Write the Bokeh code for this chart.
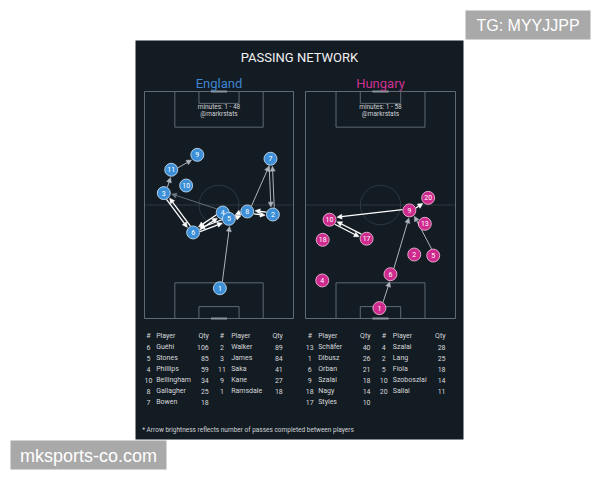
import numpy as np
from bokeh.plotting import figure
from bokeh.models import Range1d, Arrow, NormalHead, ColumnDataSource
from bokeh.core.properties import value
from bokeh.embed import file_html
from bokeh.resources import INLINE

# ---------------- data ----------------
title = "PASSING NETWORK"
teams = ["England", "Hungary"]
minutes = ["minutes: 1 - 48", "minutes: 1 - 58"]
credit = "@markrstats"
footnote = "* Arrow brightness reflects number of passes completed between players"

# average positions, pitch metres (x across 0-68, y up 0-105)
eng_num = ["1", "2", "3", "4", "5", "6", "7", "8", "9", "10", "11"]
eng_x = [34.4, 58.6, 8.8, 35.7, 38.5, 22.2, 57.5, 46.9, 24.1, 19.0, 12.2]
eng_y = [14.0, 48.1, 58.0, 49.0, 46.1, 39.8, 73.9, 49.5, 75.7, 61.5, 68.8]

hun_num = ["1", "2", "4", "5", "6", "9", "10", "13", "17", "18", "20"]
hun_x = [33.5, 49.3, 7.6, 57.9, 38.5, 47.1, 10.9, 54.1, 27.7, 7.8, 55.6]
hun_y = [4.8, 29.6, 17.6, 29.1, 20.5, 50.0, 45.7, 43.8, 36.9, 36.4, 55.8]

# pass links: from, to, brightness level (3 bright .. 1 faint)
eng_from = ["6", "3", "6", "4", "6", "5", "5", "8", "8", "2", "2", "7", "8", "1", "4", "3", "11"]
eng_to   = ["3", "6", "4", "6", "5", "6", "8", "5", "2", "8", "7", "2", "7", "5", "3", "11", "9"]
eng_lvl  = [3, 3, 3, 3, 3, 3, 3, 3, 3, 3, 2, 2, 2, 2, 1, 2, 2]

hun_from = ["9", "10", "17", "6", "1", "5", "9"]
hun_to   = ["10", "17", "10", "9", "6", "9", "20"]
hun_lvl  = [3, 3, 3, 2, 2, 2, 3]

# tables
eng_t1_num = ["6", "5", "4", "10", "8", "7"]
eng_t1_name = ["Guéhi", "Stones", "Phillips", "Bellingham", "Gallagher", "Bowen"]
eng_t1_qty = [106, 85, 59, 34, 25, 18]
eng_t2_num = ["2", "3", "11", "9", "1"]
eng_t2_name = ["Walker", "James", "Saka", "Kane", "Ramsdale"]
eng_t2_qty = [89, 84, 41, 27, 18]

hun_t1_num = ["13", "1", "6", "9", "18", "17"]
hun_t1_name = ["Schäfer", "Dibusz", "Orban", "Szalai", "Nagy", "Styles"]
hun_t1_qty = [40, 26, 21, 18, 14, 10]
hun_t2_num = ["4", "2", "5", "10", "20"]
hun_t2_name = ["Szalai", "Lang", "Fiola", "Szoboszlai", "Sallai"]
hun_t2_qty = [28, 25, 18, 14, 11]

wm1 = "TG: MYYJJPP"
wm2 = "mksports-co.com"

# ---------------- styles / layout ----------------
W, H = 592, 472
OFF = 0
FONT = value("Roboto")
PANEL = "#131b23"
LINE = "#5f6a74"
LINE_DIM = "#2e3943"
ENG_C, ENG_L, ENG_T = "#3d8fd8", "#d6eafa", "#3f86d0"
HUN_C, HUN_L, HUN_T = "#cf2a8e", "#f6c8e2", "#cc3192"
LVL_COL = {3: "#ffffff", 2: "#aeb5bc", 1: "#6c7680"}
LVL_W = {3: 1.3, 2: 1.0, 1: 0.9}

p = figure(width=W, height=H, output_backend="svg", toolbar_location=None,
           x_range=Range1d(OFF, OFF + W), y_range=Range1d(OFF + H, OFF),
           min_border=0, background_fill_color="white", border_fill_color="white")
p.axis.visible = False
p.grid.visible = False
p.outline_line_color = None

# dark panel
p.quad(left=135, right=463, top=40, bottom=439, fill_color=PANEL, line_color=None)

# watermarks
p.quad(left=465, right=590, top=10, bottom=39, fill_color="#a9a9a9", line_color=None)
p.text(x=[527.5], y=[25], text=[wm1], text_align="center", text_baseline="middle",
       text_font=value("Liberation Sans"), text_font_size="16px", text_color="white")
p.quad(left=10, right=166, top=440, bottom=469, fill_color="#a9a9a9", line_color=None)
p.text(x=[88], y=[455], text=[wm2], text_align="center", text_baseline="middle",
       text_font=value("Liberation Sans"), text_font_size="18px", text_color="white")

# titles
p.text(x=[299], y=[57], text=[title], text_align="center", text_baseline="middle",
       text_font=FONT, text_font_size="13px", text_color="#f2f2f2")

PL, PW = 68.0, 105.0
boxes = {"eng": (144, 293, 91, 318), "hun": (305, 455, 91, 318)}


def add_pitch_ranges(key):
    l, r, t, b = boxes[key]
    sx = (r - l) / PL
    sy = (b - t) / PW
    xs = 0 - (l - OFF) / sx
    xe = PL + (OFF + W - r) / sx
    ys = 0 - (OFF + H - b) / sy
    ye = PW + (t - OFF) / sy
    p.extra_x_ranges[key + "x"] = Range1d(xs, xe)
    p.extra_y_ranges[key + "y"] = Range1d(ys, ye)
    return sx


def draw_pitch(key):
    kw = dict(x_range_name=key + "x", y_range_name=key + "y")
    p.segment(x0=[0], y0=[PW / 2], x1=[PL], y1=[PW / 2], line_color=LINE_DIM, line_width=1, **kw)
    p.ellipse(x=[PL / 2], y=[PW / 2], width=[18.3], height=[18.3], fill_color=None,
              line_color=LINE_DIM, line_width=1, **kw)
    p.quad(left=[0], right=[PL], bottom=[0], top=[PW], fill_color=None, line_color=LINE, line_width=1, **kw)
    for (b0, t0) in [(0, 16.5), (PW - 16.5, PW)]:
        p.quad(left=[PL / 2 - 20.16], right=[PL / 2 + 20.16], bottom=[b0], top=[t0],
               fill_color=None, line_color=LINE, line_width=1, **kw)
    for (b0, t0) in [(0, 5.5), (PW - 5.5, PW)]:
        p.quad(left=[PL / 2 - 9.16], right=[PL / 2 + 9.16], bottom=[b0], top=[t0],
               fill_color=None, line_color=LINE, line_width=1, **kw)
    p.segment(x0=[PL / 2 - 3.66, PL / 2 - 3.66], y0=[0, PW], x1=[PL / 2 + 3.66, PL / 2 + 3.66], y1=[0, PW],
              line_color="#8c969f", line_width=2, **kw)


def draw_network(key, nums, xs, ys, src, dst, lvl, fill, edge, ppu):
    kw = dict(x_range_name=key + "x", y_range_name=key + "y")
    pos = {n: (x, y) for n, x, y in zip(nums, xs, ys)}
    r0 = 6.8 / ppu
    r1 = 7.6 / ppu
    off = 0.75
    groups = {l: dict(xs=[], ys=[], xe=[], ye=[]) for l in (1, 2, 3)}
    for a, b, l in zip(src, dst, lvl):
        x0, y0 = pos[a]
        x1, y1 = pos[b]
        dx, dy = x1 - x0, y1 - y0
        d = np.hypot(dx, dy)
        ux, uy = dx / d, dy / d
        px, py = uy, -ux
        g = groups[l]
        g["xs"].append(x0 + ux * r0 + px * off)
        g["ys"].append(y0 + uy * r0 + py * off)
        g["xe"].append(x1 - ux * r1 + px * off)
        g["ye"].append(y1 - uy * r1 + py * off)
    for l, g in groups.items():
        if not g["xs"]:
            continue
        c = LVL_COL[l]
        p.add_layout(Arrow(end=NormalHead(size=5, fill_color=c, line_color=c, line_width=0.5),
                           x_start="xs", y_start="ys", x_end="xe", y_end="ye",
                           source=ColumnDataSource(g), line_color=c, line_width=LVL_W[l], **kw))
    p.scatter(x=xs, y=ys, size=13, fill_color=fill, line_color=edge, line_width=0.8, level="overlay", **kw)
    p.text(x=xs, y=ys, text=nums, text_align="center", text_baseline="middle", text_font=FONT,
           text_font_size="7px", text_color="white", level="overlay", **kw)


for key, tname, tcol, mins, nums, xs, ys, src, dst, lvl, fill, edge in [
    ("eng", teams[0], ENG_T, minutes[0], eng_num, eng_x, eng_y, eng_from, eng_to, eng_lvl, ENG_C, ENG_L),
    ("hun", teams[1], HUN_T, minutes[1], hun_num, hun_x, hun_y, hun_from, hun_to, hun_lvl, HUN_C, HUN_L),
]:
    ppu = add_pitch_ranges(key)
    draw_pitch(key)
    draw_network(key, nums, xs, ys, src, dst, lvl, fill, edge, ppu)
    l, r, t, b = boxes[key]
    cx = (l + r) / 2
    p.text(x=[cx], y=[83], text=[tname], text_align="center", text_baseline="middle",
           text_font=FONT, text_font_size="13px", text_color=tcol)
    p.text(x=[cx, cx], y=[106, 113.5], text=[mins, credit], text_align="center", text_baseline="middle",
           text_font=FONT, text_font_size="6.5px", text_color="#cfd3d6")

# tables
ROW0, DROW = 335.7, 11.0
TXT = "#d6d8da"


def draw_table(num_x, name_x, qty_x, nums, names, qtys):
    n = len(nums)
    ys_ = list(ROW0 + DROW * (np.arange(n) + 1))
    tk = dict(text_baseline="middle", text_font=FONT, text_font_size="7px", text_color=TXT)
    p.text(x=[num_x], y=[ROW0], text=["#"], text_align="center", **tk)
    p.text(x=[name_x], y=[ROW0], text=["Player"], text_align="left", **tk)
    p.text(x=[qty_x], y=[ROW0], text=["Qty"], text_align="right", **tk)
    p.text(x=[num_x] * n, y=ys_, text=nums, text_align="center", **tk)
    p.text(x=[name_x] * n, y=ys_, text=names, text_align="left", **tk)
    p.text(x=[qty_x] * n, y=ys_, text=[str(q) for q in qtys], text_align="right", **tk)


draw_table(148.0, 155.7, 208.3, eng_t1_num, eng_t1_name, eng_t1_qty)
draw_table(221.5, 230.7, 282.3, eng_t2_num, eng_t2_name, eng_t2_qty)
draw_table(309.3, 317.7, 370.0, hun_t1_num, hun_t1_name, hun_t1_qty)
draw_table(383.3, 392.3, 445.0, hun_t2_num, hun_t2_name, hun_t2_qty)

p.text(x=[141.7], y=[429.3], text=[footnote], text_align="left", text_baseline="middle",
       text_font=FONT, text_font_size="6.5px", text_color="#cfd3d6")

open("out.html", "w").write(file_html(p, INLINE))
